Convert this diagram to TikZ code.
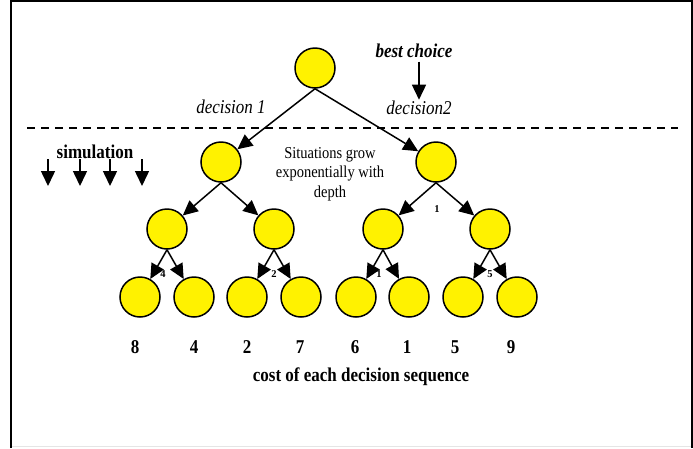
\documentclass[tikz,border=0pt]{standalone}
\usepackage{fontspec}
\setmainfont{Liberation Serif}
\usepackage{graphicx}
\usepackage{tikz}
\usetikzlibrary{arrows.meta}
\newcommand{\tallstr}[1]{\scalebox{1}[1.15]{#1}}

\begin{document}
\begin{tikzpicture}[x=1pt, y=-1pt, thick,
    state/.style={draw, circle, line width=1.5pt, fill=yellow, minimum size=40pt, inner sep=0pt},
    move/.style={line width=1.5pt, -{Triangle[length=15pt, width=14pt]}},
    big/.style={font=\fontsize{17}{19}\selectfont},
    small/.style={font=\fontsize{10.5}{12}\selectfont\bfseries}]
    \useasboundingbox (0,0) rectangle (693,448);
    % Frame
    \draw[black!10, line width=1pt] (11,446.5) -- (691.5,446.5);
    \draw[line width=2pt] (11,448) -- (11,1) -- (691.5,1) -- (691.5,448);

    % Define the states
    \node[state] (r) at (315,68) {};
    \node[state] (a) at (221,162) {};
    \node[state] (b) at (436,162) {};
    \node[state] (aa) at (167,229) {};
    \node[state] (ab) at (274,229) {};
    \node[state] (ba) at (383,229) {};
    \node[state] (bb) at (490,229) {};
    \node[state] (aaa) at (140,297) {};
    \node[state] (aab) at (194,297) {};
    \node[state] (aba) at (247,297) {};
    \node[state] (abb) at (301,297) {};
    \node[state] (baa) at (356,297) {};
    \node[state] (bab) at (409,297) {};
    \node[state] (bba) at (463,297) {};
    \node[state] (bbb) at (517,297) {};

    % Define the transitions
    \draw[move] (r.south) -- (a);
    \draw[move] (r.south) -- (b);
    \foreach \p in {a,b} {
        \draw[move] (\p.south) -- (\p a);
        \draw[move] (\p.south) -- (\p b);
    }
    \foreach \p in {aa,ab,ba,bb} {
        \draw[move] (\p.south) -- (\p a);
        \draw[move] (\p.south) -- (\p b);
    }

    % Labels
    \node[big, font=\fontsize{17}{19}\selectfont\bfseries\itshape] (best) at (414,51) {\tallstr{best choice}};
    \node[big, font=\fontsize{17}{19}\selectfont\itshape] (d1) at (231,107) {\tallstr{decision 1}};
    \node[big, font=\fontsize{17}{19}\selectfont\itshape, inner sep=1pt] (d2) at (419,108) {\tallstr{decision2}};
    \draw[move] (best.south -| d2.north) -- (d2.north);

    \draw[line width=1.6pt, dash pattern=on 8pt off 6pt] (27,128) -- (678,128);

    \node[big, font=\fontsize{17}{19}\selectfont\bfseries] (sim) at (95,152) {\tallstr{simulation}};
    \foreach \i/\x in {1/48,2/80,3/110,4/142} {
        \coordinate (s\i) at (\x,159);
        \coordinate (t\i) at (\x,186);
        \draw[move] (s\i) -- (t\i);
    }

    \node[font=\fontsize{14.5}{17}\selectfont] (grow) at (330,174)
        {\tallstr{\begin{tabular}{@{}c@{}}Situations grow\\exponentially with\\depth\end{tabular}}};

    \node[small] (c1) at (437,209) {1};
    \node[small] (c4) at (163,274) {4};
    \node[small] (c2) at (274,274) {2};
    \node[small] (c3) at (379,274) {1};
    \node[small] (c5) at (490,274) {5};

    % Costs
    \foreach \v/\x [count=\k] in {8/135,4/194,2/247,7/300,6/355,1/407,5/455,9/511}
        \node[big, font=\fontsize{17}{19}\selectfont\bfseries] (cost\k) at (\x,347) {\tallstr{\v}};
    \node[big, font=\fontsize{17}{19}\selectfont\bfseries] (costs) at (361,377)
        {\tallstr{cost of each decision sequence}};
\end{tikzpicture}
\end{document}
